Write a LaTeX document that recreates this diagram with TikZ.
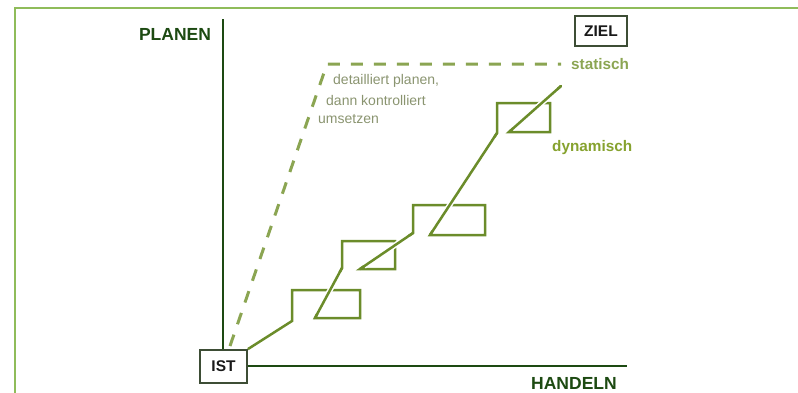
\documentclass[tikz,border=0pt]{standalone}
\usepackage{fontspec}
\setmainfont{Liberation Sans}
\definecolor{framegreen}{HTML}{8FBC5A}
\definecolor{axisgreen}{HTML}{1D4A12}
\definecolor{boxgray}{HTML}{3D4D35}
\definecolor{stairgreen}{HTML}{6B8C2A}
\definecolor{dashgreen}{HTML}{8BA552}
\definecolor{dyngreen}{HTML}{86A22E}
\definecolor{notegray}{HTML}{8A9470}
\tikzset{
  axisline/.style={draw=axisgreen, line width=2.8pt},
  axislabel/.style={text=axisgreen, font=\fontsize{17.5}{19}\selectfont\bfseries, inner sep=0pt},
  statebox/.style={draw=boxgray, line width=1.8pt, fill=white, text=black!90,
    font=\fontsize{15.5}{17}\selectfont\bfseries, inner sep=0pt},
  stair/.style={draw=stairgreen, line width=2.5pt, line join=miter},
  halo/.style={draw=white, line width=5.5pt, shorten <=5pt, shorten >=5pt},
  plandash/.style={draw=dashgreen, line width=3pt, dash pattern=on 12pt off 11pt},
  notetext/.style={text=notegray, font=\fontsize{14}{16}\selectfont, inner sep=0pt, anchor=west},
  curvelabel/.style={font=\fontsize{15.3}{17}\selectfont\bfseries, inner sep=0pt}
}
\begin{document}
\begin{tikzpicture}[x=1pt,y=-1pt]
\useasboundingbox (0,0) rectangle (798,392);
% frame
\draw[framegreen, line width=1.5pt] (15,400) -- (15,8) -- (805,8);
% boxes
\node[statebox, minimum width=47pt, minimum height=33pt] (ist) at (223.5,366.5) {IST};
\node[statebox, minimum width=52pt, minimum height=30pt] (ziel) at (601,31) {ZIEL};
% axes
\coordinate (ytop) at (223,19);
\coordinate (xend) at (627,366);
\draw[axisline] (ist.north -| ytop) -- (ytop);
\draw[axisline] (ist.east |- xend) -- (xend);
\node[axislabel] (planen) at (175,34) {PLANEN};
\node[axislabel] (handeln) at (574,383) {HANDELN};
% static plan (dashed)
\coordinate (d0) at (230,346);
\coordinate (d1) at (327,64);
\coordinate (d2) at (561,64);
\draw[plandash] (d0) -- (d1) -- (d2);
\node[curvelabel, text=dashgreen, anchor=west] (stat) at (571,64) {statisch};
\node[notetext] (n1) at (333,81) {detailliert planen,};
\node[notetext] (n2) at (326,100) {dann kontrolliert};
\node[notetext] (n3) at (318,119) {umsetzen};
% dynamic path
\coordinate (a1) at (292,321);
\coordinate (a2) at (292,290);
\coordinate (a3) at (360,290);
\coordinate (a4) at (360,318);
\coordinate (a5) at (315,318);
\coordinate (b0) at (342,268);
\coordinate (b1) at (342,241);
\coordinate (b2) at (395,241);
\coordinate (b3) at (395,269);
\coordinate (b4) at (360,269);
\coordinate (c0) at (413,233);
\coordinate (c1) at (413,205);
\coordinate (c2) at (485,205);
\coordinate (c3) at (485,235);
\coordinate (c4) at (430,235);
\coordinate (e0) at (497,133);
\coordinate (e1) at (497,103);
\coordinate (e2) at (550,103);
\coordinate (e3) at (550,132);
\coordinate (e4) at (509,132);
\coordinate (f0) at (561,86);
\draw[stair] (ist.north east) -- (a1) -- (a2) -- (a3) -- (a4) -- (a5) -- (b0) -- (b1) -- (b2) -- (b3) -- (b4) -- (c0) -- (c1) -- (c2) -- (c3) -- (c4) -- (e0) -- (e1) -- (e2) -- (e3) -- (e4) -- (f0);
\foreach \p/\q in {a5/b0, b4/c0, c4/e0, e4/f0}{
  \draw[halo] (\p) -- (\q);
  \draw[stair, line cap=round] (\p) -- (\q);
}
\node[curvelabel, text=dyngreen, anchor=west] (dyn) at (552,148) {dynamisch};
\end{tikzpicture}
\end{document}
